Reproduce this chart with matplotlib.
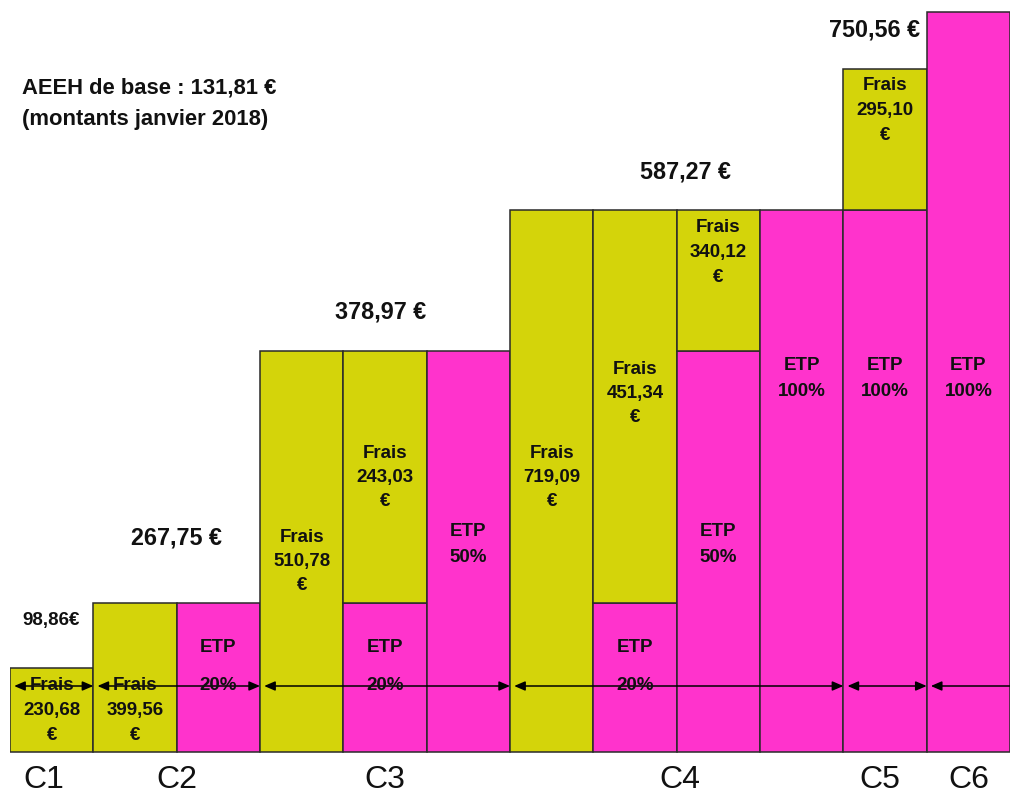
import matplotlib.pyplot as plt
from matplotlib.patches import Rectangle

plt.rcParams['font.family'] = ['Liberation Sans', 'DejaVu Sans']

# hauteurs schématiques des paliers (0 = base)
paliers = [0, 84, 149, 401, 542, 683, 740]

FRAIS = "#d4d40a"
ETP = "#ff33cc"

# une colonne = liste de (type, palier bas, palier haut, lignes de texte, y de la 1re ligne, interligne)
colonnes = [
    [("frais", 0, 1, ["Frais", "230,68", "€"], 66, 24.5)],
    [("frais", 0, 2, ["Frais", "399,56", "€"], 66, 24.5)],
    [("etp", 0, 2, ["ETP", "20%"], 104, 38)],
    [("frais", 0, 3, ["Frais", "510,78", "€"], 215, 24.5)],
    [("etp", 0, 2, ["ETP", "20%"], 104, 38), ("frais", 2, 3, ["Frais", "243,03", "€"], 299, 24.5)],
    [("etp", 0, 3, ["ETP", "50%"], 221, 27)],
    [("frais", 0, 4, ["Frais", "719,09", "€"], 299, 24.5)],
    [("etp", 0, 2, ["ETP", "20%"], 104, 38), ("frais", 2, 4, ["Frais", "451,34", "€"], 383, 24.5)],
    [("etp", 0, 3, ["ETP", "50%"], 221, 27), ("frais", 3, 4, ["Frais", "340,12", "€"], 524, 24.5)],
    [("etp", 0, 4, ["ETP", "100%"], 387, 27)],
    [("etp", 0, 4, ["ETP", "100%"], 387, 27), ("frais", 4, 5, ["Frais", "295,10", "€"], 666, 24.5)],
    [("etp", 0, 6, ["ETP", "100%"], 387, 27)],
]

# montants des compléments
montants = ["98,86€", "267,75 €", "378,97 €", "587,27 €", "750,56 €"]
montants_x = [0.49, 2.0, 4.45, 8.11, 10.38]
montants_y = [132, 214, 440, 580, 722]
montants_taille = [13.5, 16.8, 16.8, 16.8, 16.8]

categories = ["C1", "C2", "C3", "C4", "C5", "C6"]
categories_x = [0.4, 2.0, 4.5, 8.04, 10.44, 11.5]

# étendue de chaque complément sur la ligne fléchée
etendues = [(0, 1), (1, 3), (3, 6), (6, 10), (10, 11), (11, 12)]

fig = plt.figure(figsize=(10.1, 7.96), dpi=100)
ax = fig.add_axes([10 / 1010, 0, 1000 / 1010, 1])
ax.set_xlim(0, 12)
ax.set_ylim(-44, 752)
ax.axis("off")

for i, segments in enumerate(colonnes):
    for kind, bas, haut, lignes, ty, ecart in segments:
        y0, y1 = paliers[bas], paliers[haut]
        ax.add_patch(Rectangle((i, y0), 1, y1 - y0,
                               facecolor=FRAIS if kind == "frais" else ETP,
                               edgecolor="#2a2a2a", lw=1.1, zorder=1))
        for k, ligne in enumerate(lignes):
            ax.text(i + 0.5, ty - k * ecart, ligne, ha="center", va="center",
                    fontsize=13.5, fontweight="bold", color="#111111", zorder=3)

# ligne fléchée
ligne_y = 66
tete = "head_length=0.65,head_width=0.28"
for k, (a, b) in enumerate(etendues):
    style = "-|>" if k == len(etendues) - 1 else "<|-|>"
    ax.annotate("", xy=(a + 0.05, ligne_y), xytext=(b, ligne_y),
                arrowprops=dict(arrowstyle=style + "," + tete, color="black",
                                lw=1.1, shrinkA=0, shrinkB=0), zorder=2)

for txt, x, y, s in zip(montants, montants_x, montants_y, montants_taille):
    ax.text(x, y, txt, ha="center", va="center", fontsize=s,
            fontweight="bold", color="#111111")

ax.text(0.144, 664, "AEEH de base : 131,81 €", ha="left", va="center",
        fontsize=15.8, fontweight="bold", color="#111111")
ax.text(0.144, 632, "(montants janvier 2018)", ha="left", va="center",
        fontsize=15.8, fontweight="bold", color="#111111")

for c, x in zip(categories, categories_x):
    ax.text(x, -28, c, ha="center", va="center", fontsize=23, color="#111111")

fig.savefig("out.png", dpi=100)
